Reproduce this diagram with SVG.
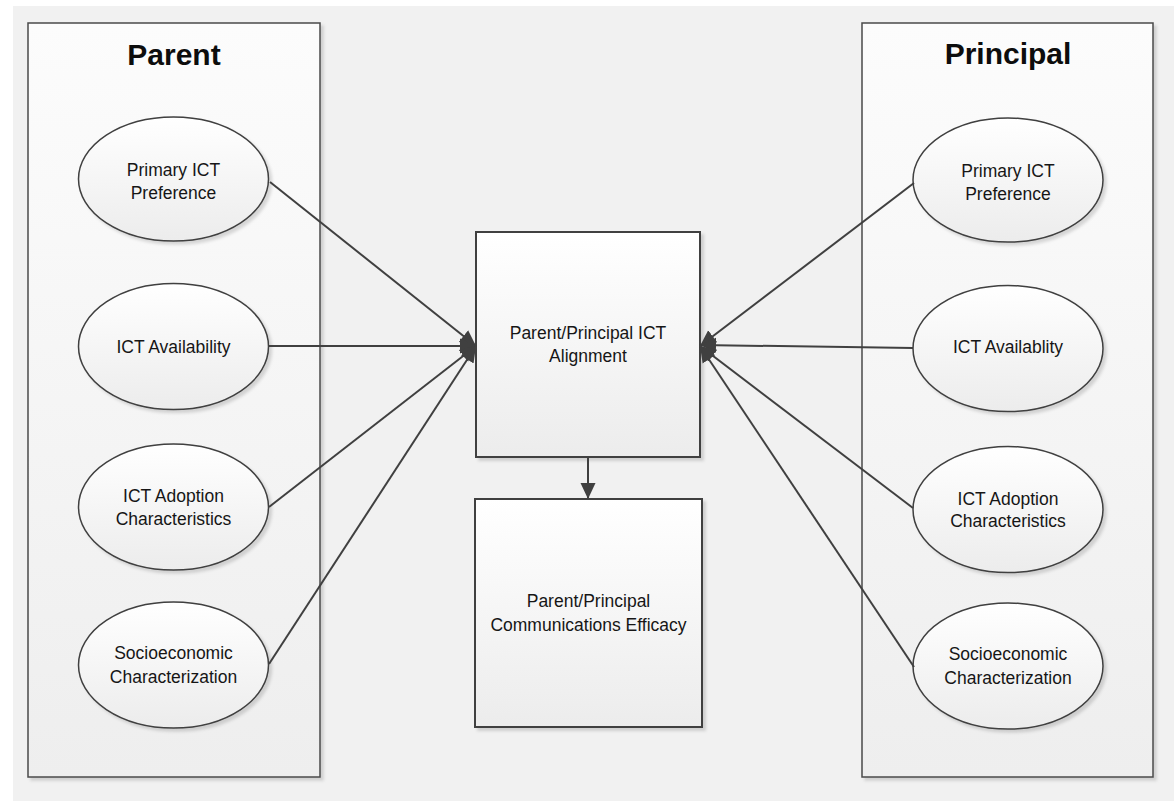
<svg xmlns="http://www.w3.org/2000/svg" width="1174" height="801" viewBox="0 0 1174 801">
  <defs>
    <linearGradient id="gPanel" x1="0" y1="0" x2="0" y2="1">
      <stop offset="0" stop-color="#fcfcfc"/>
      <stop offset="1" stop-color="#eeeeee"/>
    </linearGradient>
    <linearGradient id="gNode" x1="0" y1="0" x2="0" y2="1">
      <stop offset="0" stop-color="#ffffff"/>
      <stop offset="1" stop-color="#ececec"/>
    </linearGradient>
    <filter id="shadow" x="-10%" y="-10%" width="125%" height="125%">
      <feDropShadow dx="3" dy="3" stdDeviation="1.5" flood-color="#000" flood-opacity="0.14"/>
    </filter>
    <marker id="arrow" viewBox="0 0 16 16" refX="16" refY="8" markerWidth="16" markerHeight="16" markerUnits="userSpaceOnUse" orient="auto">
      <path d="M0,0.5 L16,8 L0,15.5 Z" fill="#404040"/>
    </marker>
  </defs>
  <style>
    .panel { fill: url(#gPanel); stroke: #4a4a4a; stroke-width: 1.5; filter: url(#shadow); }
    .ell { fill: url(#gNode); stroke: #3f3f3f; stroke-width: 1.5; filter: url(#shadow); }
    .box { fill: url(#gNode); stroke: #404040; stroke-width: 2; filter: url(#shadow); }
    .title { font-family: "Liberation Sans", Arial, sans-serif; font-weight: bold; font-size: 30px; fill: #0d0d0d; text-anchor: middle; }
    .lbl { font-family: "Liberation Sans", Arial, sans-serif; font-size: 17.5px; fill: #161616; text-anchor: middle; }
    .conn { stroke: #404040; stroke-width: 2; fill: none; marker-end: url(#arrow); }
  </style>

  <rect x="0" y="0" width="1174" height="801" fill="#ffffff"/>
  <rect x="13" y="6" width="1161" height="795" fill="#f1f1f1"/>

  <g id="parent-panel">
    <rect class="panel" x="28" y="23" width="292" height="754"/>
    <text class="title" x="174" y="65">Parent</text>
  </g>
  <g id="principal-panel">
    <rect class="panel" x="862" y="23" width="291" height="754"/>
    <text class="title" x="1008" y="64">Principal</text>
  </g>

  <g id="parent-primary">
    <ellipse class="ell" cx="173.5" cy="179" rx="95" ry="62"/>
    <text class="lbl" x="173.5" y="176">Primary ICT</text>
    <text class="lbl" x="173.5" y="199">Preference</text>
  </g>
  <g id="parent-availability">
    <ellipse class="ell" cx="173.5" cy="346.5" rx="95" ry="63"/>
    <text class="lbl" x="173.5" y="353">ICT Availability</text>
  </g>
  <g id="parent-adoption">
    <ellipse class="ell" cx="173.5" cy="507" rx="95" ry="63"/>
    <text class="lbl" x="173.5" y="502">ICT Adoption</text>
    <text class="lbl" x="173.5" y="525">Characteristics</text>
  </g>
  <g id="parent-socio">
    <ellipse class="ell" cx="173.5" cy="665" rx="95" ry="63"/>
    <text class="lbl" x="173.5" y="659">Socioeconomic</text>
    <text class="lbl" x="173.5" y="683">Characterization</text>
  </g>

  <g id="principal-primary">
    <ellipse class="ell" cx="1008" cy="180" rx="95" ry="62"/>
    <text class="lbl" x="1008" y="177">Primary ICT</text>
    <text class="lbl" x="1008" y="200">Preference</text>
  </g>
  <g id="principal-availability">
    <ellipse class="ell" cx="1008" cy="348.5" rx="95" ry="63"/>
    <text class="lbl" x="1008" y="353">ICT Availablity</text>
  </g>
  <g id="principal-adoption">
    <ellipse class="ell" cx="1008" cy="509.5" rx="95" ry="63"/>
    <text class="lbl" x="1008" y="505">ICT Adoption</text>
    <text class="lbl" x="1008" y="527">Characteristics</text>
  </g>
  <g id="principal-socio">
    <ellipse class="ell" cx="1008" cy="666" rx="95" ry="63"/>
    <text class="lbl" x="1008" y="660">Socioeconomic</text>
    <text class="lbl" x="1008" y="684">Characterization</text>
  </g>

  <g id="alignment">
    <rect class="box" x="476" y="232" width="224" height="225"/>
    <text class="lbl" x="588" y="339">Parent/Principal ICT</text>
    <text class="lbl" x="588" y="362">Alignment</text>
  </g>
  <g id="efficacy">
    <rect class="box" x="475" y="499" width="227" height="228"/>
    <text class="lbl" x="588.5" y="607">Parent/Principal</text>
    <text class="lbl" x="588.5" y="631">Communications Efficacy</text>
  </g>

  <g id="connectors">
    <line class="conn" x1="270" y1="182" x2="476" y2="346"/>
    <line class="conn" x1="269" y1="346" x2="476" y2="346"/>
    <line class="conn" x1="269" y1="507" x2="476" y2="346"/>
    <line class="conn" x1="269" y1="664" x2="476" y2="346"/>
    <line class="conn" x1="914" y1="183" x2="700" y2="346"/>
    <line class="conn" x1="913" y1="348" x2="700" y2="345"/>
    <line class="conn" x1="913" y1="508" x2="700" y2="346"/>
    <line class="conn" x1="914" y1="667" x2="700" y2="346"/>
    <line class="conn" x1="588" y1="457" x2="588" y2="499"/>
  </g>
</svg>
